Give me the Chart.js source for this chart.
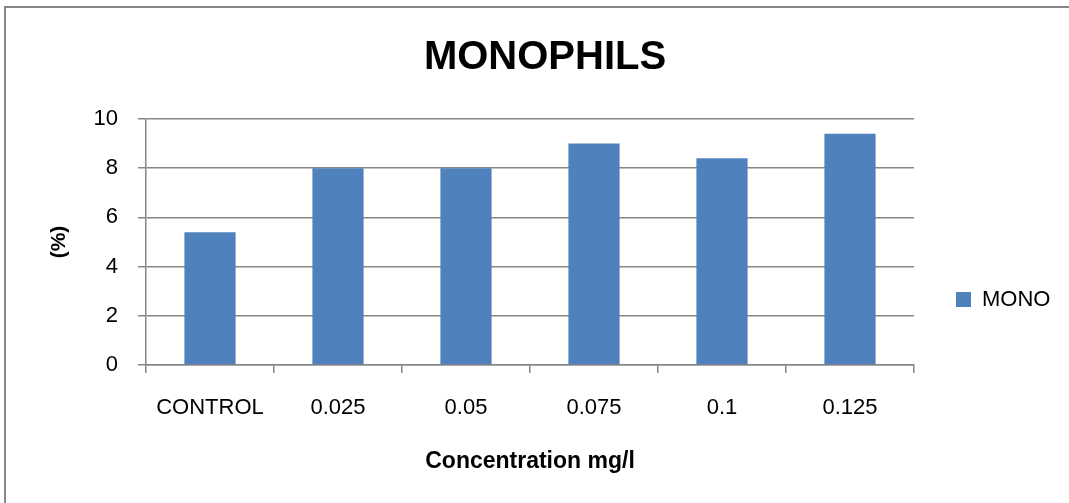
<!DOCTYPE html>
<html>
<head>
<meta charset="utf-8">
<script src="https://cdn.jsdelivr.net/npm/chart.js@4.4.1/dist/chart.umd.min.js"></script>
<style>
  html, body { margin: 0; padding: 0; background: #ffffff; }
  #wrap { width: 1069px; height: 503px; position: relative; }
</style>
</head>
<body>
<div id="wrap"><canvas id="c" width="1069" height="503"></canvas></div>
<script>
const categories = ['CONTROL', '0.025', '0.05', '0.075', '0.1', '0.125'];
const monoValues = [5.4, 8, 8, 9, 8.4, 9.4];
const seriesName = 'MONO';
const chartTitle = 'MONOPHILS';
const xTitle = 'Concentration mg/l';
const yTitle = '(%)';
const yMin = 0, yMax = 10, yStep = 2;

const FONT = '"Liberation Sans", Arial, "DejaVu Sans", sans-serif';
const GRID = '#878787';

const frame = {
  id: 'frame',
  beforeDraw(chart) {
    const ctx = chart.ctx;
    ctx.save();
    ctx.fillStyle = '#ffffff';
    ctx.fillRect(0, 0, chart.width, chart.height);
    ctx.strokeStyle = GRID;
    ctx.lineWidth = 2;
    ctx.strokeRect(5, 7, 1200, 1200);
    ctx.restore();
  }
};

const legendPlace = {
  id: 'legendPlace',
  afterInit(chart) {
    const lg = chart.legend;
    if (lg && !lg._wrapped) {
      const orig = lg.fit.bind(lg);
      lg.fit = function () { orig(); this.width = 155; };
      lg._wrapped = true;
    }
  },
  afterLayout(chart) {
    const lg = chart.legend;
    if (lg) { lg.top = 280; lg.bottom = 319; }
  }
};

new Chart(document.getElementById('c'), {
  type: 'bar',
  data: {
    labels: categories,
    datasets: [{
      label: seriesName,
      data: monoValues,
      backgroundColor: '#4F81BD',
      borderWidth: 0,
      categoryPercentage: 0.8,
      barPercentage: 0.5
    }]
  },
  plugins: [frame, legendPlace],
  options: {
    responsive: false,
    animation: false,
    layout: { padding: { left: 21, right: 0, top: 0, bottom: 0 } },
    plugins: {
      title: {
        display: true,
        text: chartTitle,
        color: '#000000',
        font: { family: FONT, size: 40, weight: 'bold' },
        padding: { top: 34, bottom: 37 }
      },
      legend: {
        display: true,
        position: 'right',
        labels: {
          color: '#000000',
          font: { family: FONT, size: 22 },
          boxWidth: 15,
          boxHeight: 15,
          padding: 42
        }
      },
      tooltip: { enabled: false }
    },
    scales: {
      x: {
        offset: true,
        grid: {
          display: true,
          drawOnChartArea: false,
          drawTicks: true,
          tickLength: 8,
          color: GRID,
          lineWidth: 1.5,
          offset: true
        },
        border: { display: true, color: GRID, width: 1.5 },
        ticks: {
          color: '#000000',
          font: { family: FONT, size: 22 },
          padding: 22,
          maxRotation: 0,
          autoSkip: false
        },
        title: {
          display: true,
          text: xTitle,
          color: '#000000',
          font: { family: FONT, size: 23, weight: 'bold' },
          padding: { top: 0, bottom: 28 }
        },
        afterFit(scale) { scale.height = 138; }
      },
      y: {
        min: yMin,
        max: yMax,
        grid: {
          color: GRID,
          lineWidth: 1.5,
          tickLength: 8,
          drawTicks: true
        },
        border: { display: true, color: GRID, width: 1.5 },
        ticks: {
          stepSize: yStep,
          color: '#000000',
          font: { family: FONT, size: 22 },
          padding: 20
        },
        title: {
          display: true,
          text: yTitle,
          color: '#000000',
          font: { family: FONT, size: 21, weight: 'bold' },
          padding: { top: 26, bottom: 0 }
        },
        afterFit(scale) { scale.width = 125; }
      }
    }
  }
});
</script>
</body>
</html>
